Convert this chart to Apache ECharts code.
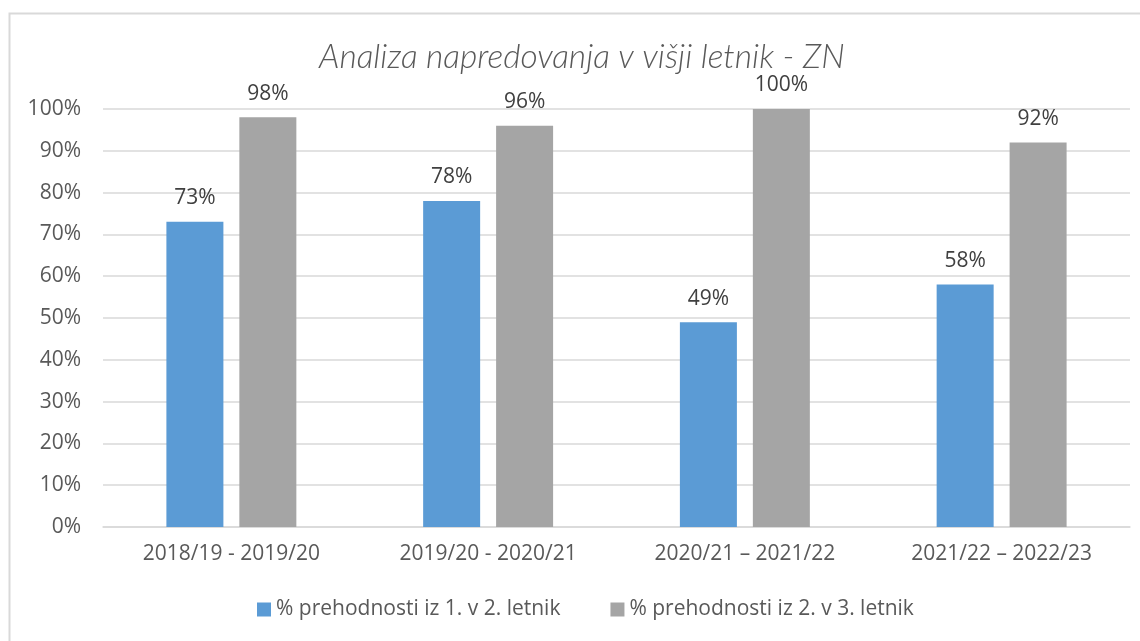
<!DOCTYPE html>
<html><head><meta charset="utf-8">
<script src="https://cdn.jsdelivr.net/npm/echarts@6/dist/echarts.min.js"></script>
<style>html,body{margin:0;padding:0;background:#fff;}#c{width:1140px;height:641px;}</style>
</head><body><div id="c"></div>
<script>
const categories = ['2018/19 - 2019/20', '2019/20 - 2020/21', '2020/21 \u2013 2021/22', '2021/22 \u2013 2022/23'];
const series1Name = '% prehodnosti iz 1. v 2. letnik';
const series2Name = '% prehodnosti iz 2. v 3. letnik';
const series1 = [73, 78, 49, 58];
const series2 = [98, 96, 100, 92];
const titleText = 'Analiza napredovanja v višji letnik - ZN';

const font = 'Open Sans, Noto Sans, sans-serif';
const chart = echarts.init(document.getElementById('c'));
const lbl = {show: true, position: 'top', distance: 13, formatter: p => p.value + '%', color: '#404040', fontSize: 21, fontFamily: font};
chart.setOption({
  animation: false,
  title: {text: titleText, left: 314, top: 35, textStyle: {fontFamily: 'Lato, sans-serif', fontStyle: 'italic', fontWeight: 300, fontSize: 33.5, color: '#595959'}},
  graphic: [{type: 'polyline', shape: {points: [[9.5, 641], [9.5, 13.5], [1140, 13.5]]}, style: {stroke: '#d9d9d9', lineWidth: 2, fill: null}, silent: true}],
  legend: {bottom: 16, left: 252, itemWidth: 14, itemHeight: 14, itemGap: 50, icon: 'rect', textStyle: {fontFamily: font, fontSize: 21, color: '#595959'}, data: [series1Name, series2Name]},
  grid: {left: 103, right: 10, top: 109, bottom: 114, containLabel: false},
  xAxis: {type: 'category', data: categories, axisLine: {lineStyle: {color: '#d9d9d9', width: 1.5}}, axisTick: {show: false}, axisLabel: {fontFamily: font, fontSize: 21, color: '#595959', margin: 17}},
  yAxis: {type: 'value', min: 0, max: 100, interval: 10, axisLabel: {formatter: '{value}%', fontFamily: font, fontSize: 21, color: '#595959', margin: 22}, splitLine: {lineStyle: {color: '#d9d9d9', width: 1.5}}, axisLine: {show: false}, axisTick: {show: false}},
  series: [
    {name: series1Name, type: 'bar', data: series1, itemStyle: {color: '#5b9bd5'}, barWidth: 57, barGap: '28%', label: lbl},
    {name: series2Name, type: 'bar', data: series2, itemStyle: {color: '#a5a5a5'}, barWidth: 57, label: lbl}
  ]
});
</script></body></html>
